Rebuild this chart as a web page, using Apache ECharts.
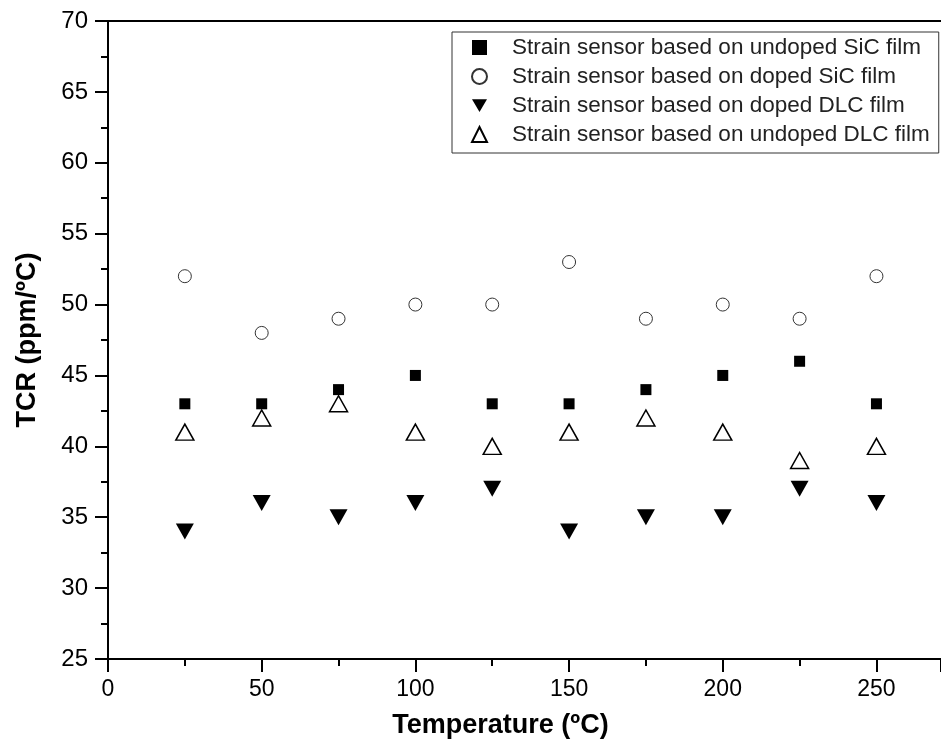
<!DOCTYPE html>
<html>
<head>
<meta charset="utf-8">
<script src="https://cdn.jsdelivr.net/npm/echarts@6/dist/echarts.min.js"></script>
<style>html,body{margin:0;padding:0;background:#fff}#main{width:941px;height:744px}</style>
</head>
<body>
<div id="main"></div>
<script>
var temps = [25, 50, 75, 100, 125, 150, 175, 200, 225, 250];
var undopedSiC = [43, 43, 44, 45, 43, 43, 44, 45, 46, 43];
var dopedSiC = [52, 48, 49, 50, 50, 53, 49, 50, 49, 52];
var dopedDLC = [34, 36, 35, 36, 37, 34, 35, 35, 37, 36];
var undopedDLC = [41, 42, 43, 41, 40, 41, 42, 41, 39, 40];
var names = [
  'Strain sensor based on undoped SiC film',
  'Strain sensor based on doped SiC film',
  'Strain sensor based on doped DLC film',
  'Strain sensor based on undoped DLC film'
];

function pairs(ys) {
  return temps.map(function (t, i) { return [t, ys[i]]; });
}

var chart = echarts.init(document.getElementById('main'));
var font = 'Liberation Sans, Arial, sans-serif';
var downTri = 'path://M0,0L20,0L10,17Z';

var option = {
  animation: false,
  grid: { left: 108, top: 21, right: 0, bottom: 85 },
  legend: {
    left: 452, top: 32,
    orient: 'vertical',
    padding: [4, 9, 7, 19],
    itemGap: 6,
    itemWidth: 15, itemHeight: 15,
    borderColor: '#333', borderWidth: 1,
    textStyle: { fontFamily: font, fontSize: 22.5, lineHeight: 22, color: '#222', padding: [0, 0, 0, 20] },
    data: names
  },
  xAxis: [{
    type: 'value', min: 0, max: 271, interval: 50,
    name: 'Temperature (ºC)', nameLocation: 'middle', nameGap: 53,
    nameTextStyle: { fontFamily: font, fontSize: 27, fontWeight: 'bold', color: '#000', padding: [0, 48, 0, 0] },
    axisLine: { lineStyle: { color: '#000', width: 2 } },
    axisTick: { inside: false, length: 13, lineStyle: { width: 2, color: '#000' } },
    minorTick: { show: true, splitNumber: 2, length: 7, lineStyle: { width: 2, color: '#000' } },
    axisLabel: { fontFamily: font, fontSize: 23, color: '#000', margin: 19,
      showMaxLabel: false },
    splitLine: { show: false }
  }, {
    type: 'value', position: 'top', min: 0, max: 271,
    axisLine: { show: true, onZero: false, lineStyle: { color: '#000', width: 2 } },
    axisTick: { show: false }, axisLabel: { show: false }, splitLine: { show: false }
  }],
  yAxis: {
    type: 'value', min: 25, max: 70, interval: 5,
    name: 'TCR (ppm/ºC)', nameLocation: 'middle', nameGap: 67, nameRotate: 90,
    nameTextStyle: { fontFamily: font, fontSize: 27, fontWeight: 'bold', color: '#000' },
    axisLine: { show: true, lineStyle: { color: '#000', width: 2 } },
    axisTick: { show: true, inside: false, length: 13, lineStyle: { width: 2, color: '#000' } },
    minorTick: { show: true, splitNumber: 2, length: 7, lineStyle: { width: 2, color: '#000' } },
    axisLabel: { fontFamily: font, fontSize: 24, color: '#000', margin: 20 },
    splitLine: { show: false }
  },
  series: [
    {
      name: names[0], type: 'scatter', symbol: 'rect', symbolSize: 11,
      itemStyle: { color: '#000', opacity: 1 }, data: pairs(undopedSiC)
    },
    {
      name: names[1], type: 'scatter', symbol: 'circle', symbolSize: 13,
      itemStyle: { color: '#fff', borderColor: '#333', borderWidth: 1, opacity: 1 }, data: pairs(dopedSiC)
    },
    {
      name: names[2], type: 'scatter', symbol: downTri, symbolSize: [18, 16],
      itemStyle: { color: '#000', opacity: 1 }, data: pairs(dopedDLC)
    },
    {
      name: names[3], type: 'scatter', symbol: 'triangle', symbolSize: [18, 16],
      itemStyle: { color: '#fff', borderColor: '#000', borderWidth: 1.5, opacity: 1 }, data: pairs(undopedDLC)
    }
  ]
};

chart.setOption(option);
</script>
</body>
</html>
